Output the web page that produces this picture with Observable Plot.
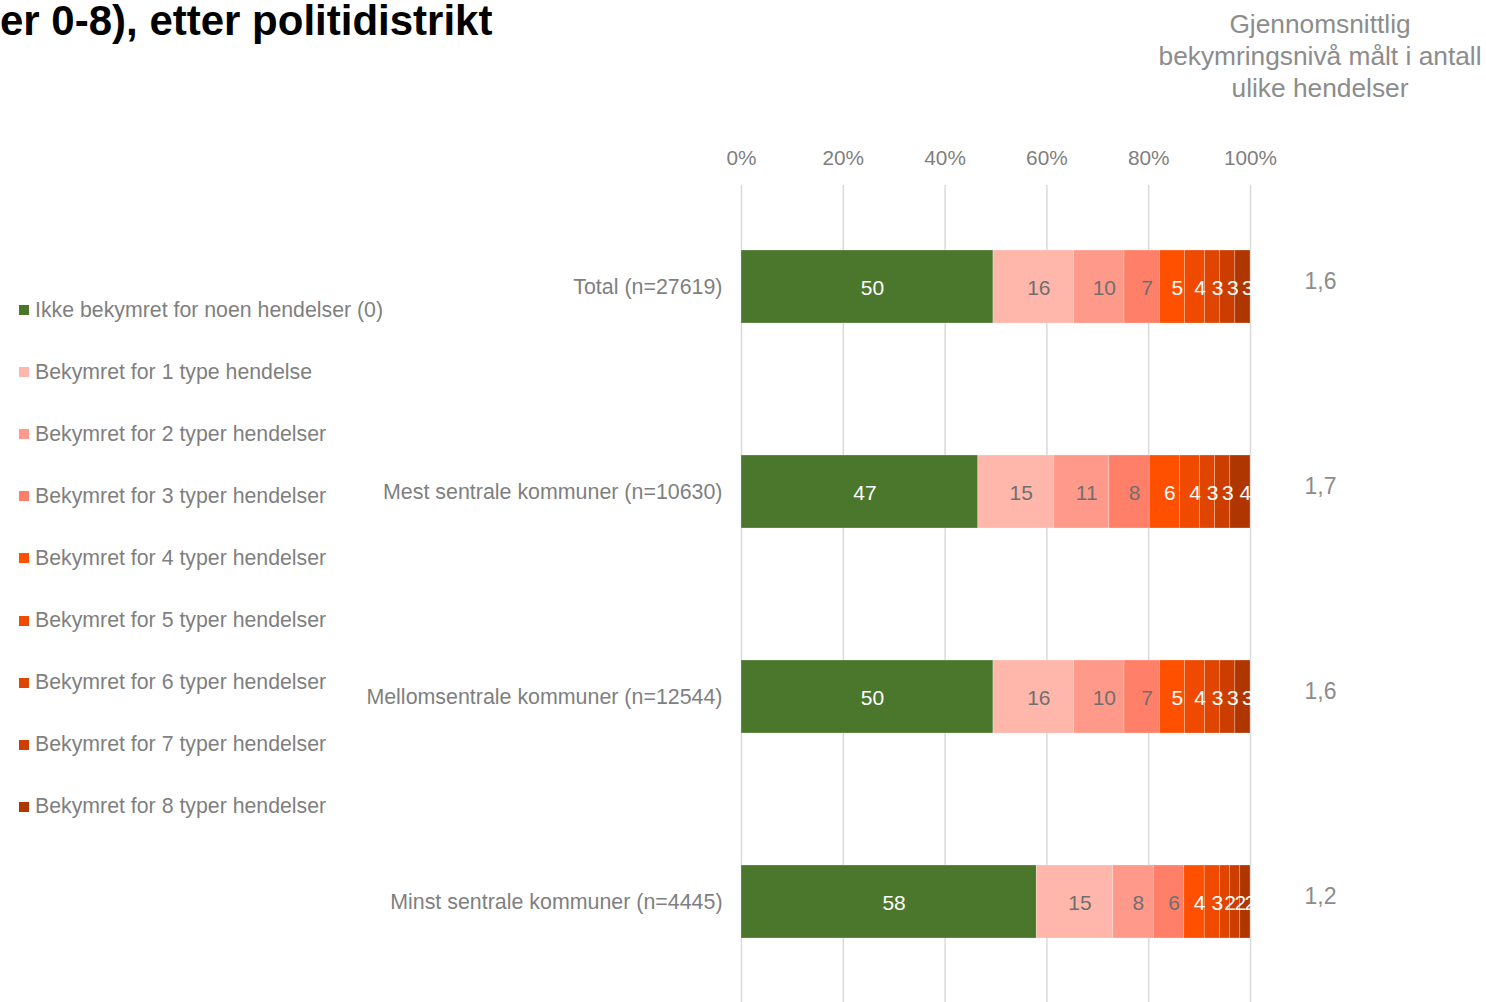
<!DOCTYPE html>
<html>
<head>
<meta charset="utf-8">
<script src="https://cdn.jsdelivr.net/npm/d3@7"></script>
<script src="https://cdn.jsdelivr.net/npm/@observablehq/plot@0.6"></script>
<style>
  html, body { margin: 0; padding: 0; background: #fff; }
  body { font-family: "Liberation Sans", Arial, sans-serif; }
  #wrap { position: relative; width: 1486px; height: 1002px; overflow: hidden; }
  #chart { position: absolute; left: 0; top: 0; }
  #title { position: absolute; left: 0px; top: -3px; font-size: 42px; font-weight: bold; color: #000; white-space: nowrap; }
  #head { position: absolute; left: 1140px; width: 360px; top: 8px; text-align: center; font-size: 26.3px; line-height: 32px; color: #8c8c8c; }
  #legend { position: absolute; left: 19px; top: 297px; }
  .li { position: absolute; left: 0; height: 26px; white-space: nowrap; font-size: 21.3px; color: #7f7f7f; display: flex; align-items: center; }
  .sw { width: 10px; height: 10px; margin-right: 6px; }
</style>
</head>
<body>
<div id="wrap">
  <div id="chart"></div>
  <div id="title">er 0-8), etter politidistrikt</div>
  <div id="head">Gjennomsnittlig<br>bekymringsnivå målt i antall<br>ulike hendelser</div>
  <div id="legend"></div>
</div>
<script>
const categories = [
  "Total (n=27619)",
  "Mest sentrale kommuner (n=10630)",
  "Mellomsentrale kommuner (n=12544)",
  "Minst sentrale kommuner (n=4445)"
];
const seriesNames = [
  "Ikke bekymret for noen hendelser (0)",
  "Bekymret for 1 type hendelse",
  "Bekymret for 2 typer hendelser",
  "Bekymret for 3 typer hendelser",
  "Bekymret for 4 typer hendelser",
  "Bekymret for 5 typer hendelser",
  "Bekymret for 6 typer hendelser",
  "Bekymret for 7 typer hendelser",
  "Bekymret for 8 typer hendelser"
];
const seriesColors = ["#4a772b", "#ffb6ab", "#ff9a8b", "#ff7f68", "#ff5000", "#f04a00", "#e04500", "#cc3e00", "#b03600"];
const labelColors = ["#ffffff", "#6f6f6f", "#6f6f6f", "#6f6f6f", "#ffffff", "#ffffff", "#ffffff", "#ffffff", "#ffffff"];
const totalValues = [50, 16, 10, 7, 5, 4, 3, 3, 3];
const mestValues = [47, 15, 11, 8, 6, 4, 3, 3, 4];
const mellomValues = [50, 16, 10, 7, 5, 4, 3, 3, 3];
const minstValues = [58, 15, 8, 6, 4, 3, 2, 2, 2];
const averages = ["1,6", "1,7", "1,6", "1,2"];
const xTicks = [0, 0.2, 0.4, 0.6, 0.8, 1];

const valueRows = [totalValues, mestValues, mellomValues, minstValues];
const data = [];
seriesNames.forEach((s, si) => {
  categories.forEach((c, ci) => {
    data.push({category: c, series: s, si, value: valueRows[ci][si]});
  });
});
const avgData = categories.map((c, i) => ({category: c, avg: averages[i]}));

const font = '"Liberation Sans", Arial, sans-serif';

const chart = Plot.plot({
  width: 1486,
  height: 1002,
  marginLeft: 741,
  marginRight: 236,
  marginTop: 185,
  marginBottom: 0,
  style: {fontFamily: font, background: "transparent"},
  x: {domain: [0, 1], ticks: xTicks, tickFormat: d3.format(".0%")},
  y: {domain: categories, paddingInner: 0.644, paddingOuter: 0.3146, label: null},
  color: {domain: seriesNames, range: seriesColors},
  marks: [
    Plot.gridX(xTicks, {stroke: "#d9d9d9", strokeOpacity: 1, strokeWidth: 1.5}),
    Plot.axisX(xTicks, {anchor: "top", tickSize: 0, tickPadding: 21, fontSize: 20.8, fill: "#7f7f7f", tickFormat: d3.format(".0%"), label: null}),
    Plot.axisY({tickSize: 0, tickPadding: 19, fontSize: 21.4, fill: "#7f7f7f", label: null}),
    Plot.barX(data, Plot.stackX({x: "value", y: "category", z: "series", fill: "series", offset: "normalize", stroke: "#ffffff", strokeWidth: 0.5, strokeOpacity: 0.5})),
    Plot.text(data, Plot.stackX({x: "value", y: "category", z: "series", offset: "normalize", text: d => String(d.value), fill: d => labelColors[d.si], fontSize: 21, dy: 1, dx: 5})),
    Plot.text(avgData, {y: "category", text: "avg", frameAnchor: "right", dx: 70, textAnchor: "middle", fontSize: 23, fill: "#8c8c8c", dy: -5})
  ]
});
document.getElementById("chart").appendChild(chart);

const legend = document.getElementById("legend");
seriesNames.forEach((s, i) => {
  const item = document.createElement("div");
  item.className = "li";
  item.style.top = (i * 62.1) + "px";
  const sw = document.createElement("span");
  sw.className = "sw";
  sw.style.background = seriesColors[i];
  const tx = document.createElement("span");
  tx.textContent = s;
  item.appendChild(sw);
  item.appendChild(tx);
  legend.appendChild(item);
});
</script>
</body>
</html>
